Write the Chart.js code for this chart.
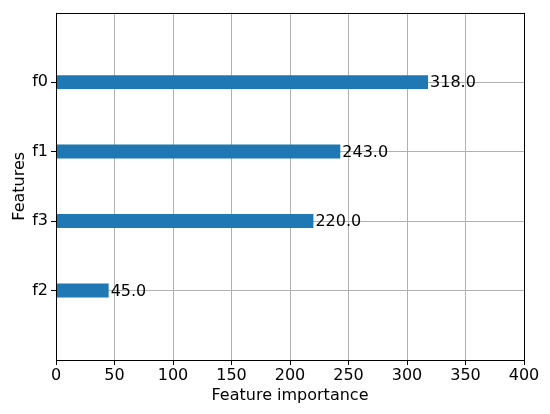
<!DOCTYPE html>
<html>
<head>
<meta charset="utf-8">
<script src="https://cdn.jsdelivr.net/npm/chart.js@4/dist/chart.umd.min.js"></script>
<style>
  html, body { margin: 0; padding: 0; background: #fff; }
  canvas { display: block; }
</style>
</head>
<body>
<canvas id="chart" width="550" height="414"></canvas>
<script>
// features top to bottom, with their importance scores
const features = ['f0', 'f1', 'f3', 'f2'];
const scores = [318, 243, 220, 45];
const xTicks = [0, 50, 100, 150, 200, 250, 300, 350, 400];

const FONT = "'DejaVu Sans', sans-serif";
const SIZE = 16;

// bottom feature sits at 0, top one at n-1
const n = features.length;
const points = features.map((f, i) => ({ x: scores[i], y: n - 1 - i }));

// score text at the end of each bar
const valueLabels = {
  id: 'valueLabels',
  afterDraw(chart) {
    const ctx = chart.ctx;
    const meta = chart.getDatasetMeta(0);
    ctx.save();
    ctx.font = SIZE + 'px ' + FONT;
    ctx.fillStyle = '#000';
    ctx.textBaseline = 'middle';
    ctx.textAlign = 'left';
    meta.data.forEach((bar, i) => {
      ctx.fillText(scores[i].toFixed(1), bar.x + 2, bar.y + 1);
    });
    ctx.restore();
  }
};

// box round the plot like matplotlib spines
const frame = {
  id: 'frame',
  afterDraw(chart) {
    const a = chart.chartArea;
    const ctx = chart.ctx;
    ctx.save();
    ctx.strokeStyle = '#000';
    ctx.lineWidth = 1;
    ctx.strokeRect(Math.round(a.left) + 0.5, Math.round(a.top) + 0.5,
      Math.round(a.right - a.left), Math.round(a.bottom - a.top));
    ctx.restore();
  }
};

new Chart(document.getElementById('chart'), {
  type: 'bar',
  data: {
    datasets: [{
      data: points,
      backgroundColor: '#1f77b4',
      borderWidth: 0,
      barPercentage: 0.2,
      categoryPercentage: 1
    }]
  },
  options: {
    indexAxis: 'y',
    responsive: false,
    animation: false,
    devicePixelRatio: 1,
    layout: { padding: { top: 12, right: 26, left: 0, bottom: 0 } },
    plugins: { legend: { display: false }, tooltip: { enabled: false } },
    scales: {
      x: {
        type: 'linear',
        min: 0,
        max: 400,
        z: 1,
        afterBuildTicks: (scale) => { scale.ticks = xTicks.map(v => ({ value: v })); },
        afterFit: (scale) => { scale.height = 54; },
        grid: { color: '#b0b0b0', lineWidth: 1, tickColor: '#000', tickLength: 5 },
        border: { display: false },
        ticks: { color: '#000', font: { family: FONT, size: SIZE }, padding: 1,
          maxRotation: 0, autoSkip: false },
        title: { display: true, text: 'Feature importance', color: '#000',
          font: { family: FONT, size: SIZE }, padding: { top: 0, bottom: 9 } }
      },
      y: {
        type: 'linear',
        min: -1,
        max: n,
        offset: false,
        z: 1,
        afterBuildTicks: (scale) => { scale.ticks = features.map((f, i) => ({ value: n - 1 - i })); },
        afterFit: (scale) => { scale.width = 56; },
        grid: { offset: false, color: '#b0b0b0', lineWidth: 1, tickColor: '#000', tickLength: 5 },
        border: { display: false },
        ticks: {
          color: '#000', font: { family: FONT, size: SIZE }, padding: 3, autoSkip: false,
          callback: (v) => features[n - 1 - v]
        },
        title: { display: true, text: 'Features', color: '#000',
          font: { family: FONT, size: SIZE }, padding: { top: 10, bottom: 0 } }
      }
    }
  },
  plugins: [valueLabels, frame]
});
</script>
</body>
</html>
